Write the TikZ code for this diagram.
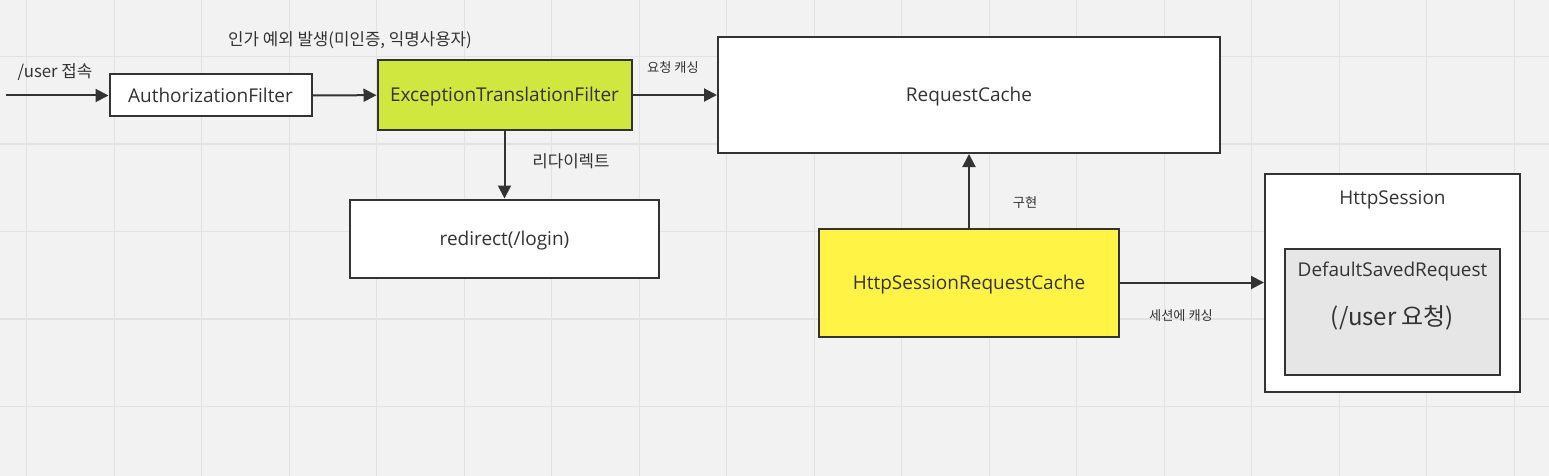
\documentclass[tikz,border=0pt]{standalone}
\usepackage{fontspec}
\setmainfont{Open Sans}
\newfontfamily\kr{Noto Sans CJK KR}
\usetikzlibrary{arrows.meta}
\definecolor{linegray}{HTML}{333333}
\definecolor{gridgray}{HTML}{E2E2E2}
\definecolor{bggray}{HTML}{F2F2F2}
\definecolor{limegreen}{HTML}{CFE73F}
\definecolor{brightyellow}{HTML}{FFF445}
\definecolor{boxgray}{HTML}{E6E6E6}

\begin{document}
\begin{tikzpicture}[x=1pt, y=-1pt, line width=2pt,
        node_style/.style={rectangle,draw=linegray,fill=white,inner sep=0pt,text=linegray,text height=14pt,text depth=0pt,font=\fontsize{19}{23}\selectfont},
        text_style/.style={inner sep=0pt,text=linegray,text height=14pt,text depth=0pt,font=\fontsize{19}{23}\selectfont},
        label_style/.style={inner sep=0pt,text=linegray,font=\kr\fontsize{16.8}{20}\selectfont},
        small_label_style/.style={inner sep=0pt,text=linegray,font=\kr\fontsize{13.2}{16}\selectfont},
        edge_style/.style={draw=linegray,line width=2pt,-{Triangle[length=13pt,width=13pt]}},
        grid_style/.style={draw=gridgray,line width=1.2pt}]

        \fill [bggray] (0,0) rectangle (1549,476);
        \useasboundingbox (0,0) rectangle (1549,476);
        \foreach \gx in {0,...,17} \draw [grid_style] (26.7+87.5*\gx,0) -- (26.7+87.5*\gx,476);
        \foreach \gy in {0,...,4} \draw [grid_style] (0,56.5+87.5*\gy) -- (1549,56.5+87.5*\gy);

        \coordinate (s0) at (6,95.5);
        \node [node_style, minimum width=202, minimum height=42](n1) at (210.5,95.5) {AuthorizationFilter};
        \node [node_style, fill=limegreen, minimum width=254, minimum height=70](n2) at (504.5,95) {ExceptionTranslationFilter};
        \node [node_style, minimum width=502, minimum height=116](n3) at (969,95) {RequestCache};
        \node [node_style, minimum width=309, minimum height=78](n4) at (504.5,238.5) {redirect(/login)};
        \node [node_style, fill=brightyellow, minimum width=300, minimum height=108](n5) at (969,282.5) {HttpSessionRequestCache};
        \node [node_style, minimum width=255, minimum height=218](n6) at (1392.5,283) {};
        \node [node_style, fill=boxgray, minimum width=215, minimum height=126](n7) at (1392.5,312) {};
        \node [text_style](t1) at (1392.5,197.5) {HttpSession};
        \node [text_style](t2) at (1392.5,269) {DefaultSavedRequest};
        \node [text_style, text height=17.5pt, font=\kr\fontsize{24}{28}\selectfont](t3) at (1392.5,317) {(/user 요청)};

        \node [label_style](l1) at (55,72) {/user 접속};
        \node [label_style](l2) at (350,40) {인가 예외 발생(미인증, 익명사용자)};
        \node [small_label_style](l3) at (673,68) {요청 캐싱};
        \node [label_style](l4) at (571,161) {리다이렉트};
        \node [small_label_style](l5) at (1025,203) {구현};
        \node [small_label_style](l6) at (1181,316) {세션에 캐싱};

        \draw [edge_style] (s0) -- (n1);
        \draw [edge_style] (n1) -- (n2);
        \draw [edge_style] (n2) -- (n3);
        \draw [edge_style] (n2) -- (n4);
        \draw [edge_style] (n5) -- (n3);
        \draw [edge_style] (n5) -- (n5 -| n6.west);
        \end{tikzpicture}
\end{document}
